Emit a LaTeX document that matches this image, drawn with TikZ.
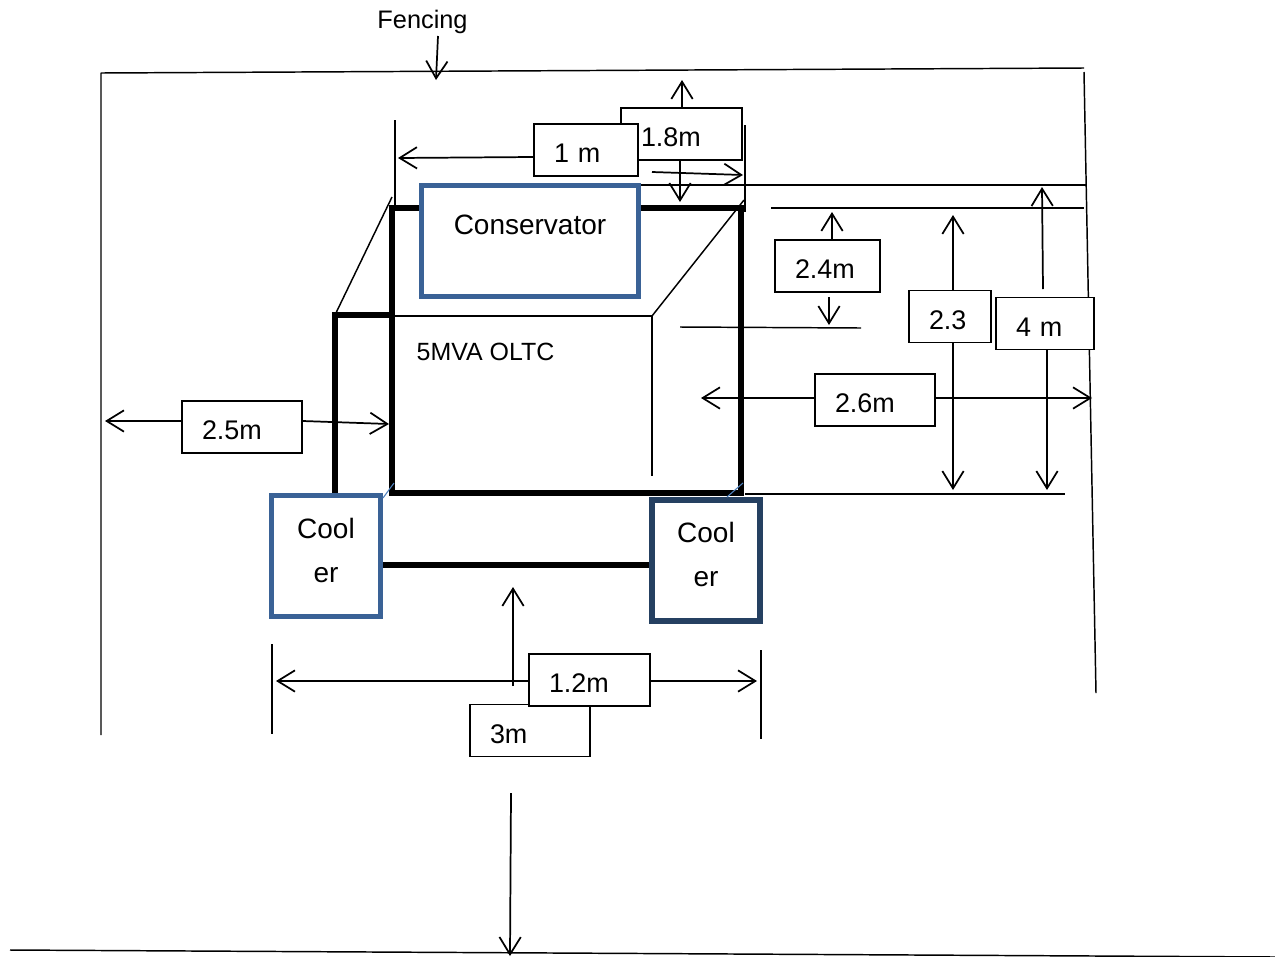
\documentclass[tikz,border=0pt]{standalone}
\usepackage{fontspec}
\setmainfont{Liberation Sans}
\usetikzlibrary{arrows.meta}
\definecolor{coolblue}{HTML}{3A6296}
\definecolor{darkblue}{HTML}{254061}
\definecolor{pipeblue}{HTML}{4F81BD}
\begin{document}
\begin{tikzpicture}[x=0.75pt,y=-0.75pt,line join=bevel,>={Straight Barb[length=13pt,width=16pt,line width=1.3pt]}]
  \tikzstyle{thin line}=[line width=1.1pt]
  \tikzstyle{thick line}=[line width=4pt,line join=miter]
  \tikzstyle{dim}=[->,line width=1.3pt]
  \tikzstyle{dimbox}=[draw,fill=white,line width=1.1pt,line join=miter,inner xsep=15pt,inner ysep=0pt,minimum height=39pt,align=left,font=\fontsize{20.2}{24}\selectfont,text height=20pt,text depth=1pt,text width=#1]
  \tikzstyle{unit}=[draw,fill=white,line width=4pt,line join=miter,inner sep=0pt,align=center,font=\fontsize{21}{33}\selectfont]
  \useasboundingbox (0,0) rectangle (1275,957);

  % fencing and ground
  \coordinate (F_1) at (101,735);
  \coordinate (F_2) at (101,73);
  \coordinate (F_3) at (1084,68);
  \coordinate (F_4) at (1084,72);
  \coordinate (F_5) at (1096,693);
  \draw[thin line] (F_1) -- (F_2) -- (F_3);
  \draw[thin line] (F_4) -- (F_5);
  \node[font=\fontsize{19}{22}\selectfont] (fencing) at (422.5,22) {Fencing};
  \coordinate (F_t) at (436,80);
  \draw[dim] (438,36) -- (F_t);
  \coordinate (G_1) at (10,950);
  \coordinate (G_2) at (1275,957);
  \draw[thin line] (G_1) -- (G_2);
  \coordinate (G_s) at (511,793);
  \coordinate (G_t) at (510,956);
  \draw[dim] (G_s) -- (G_t);

  % transformer body
  \node[draw,line width=4pt,line join=miter,minimum width=261.75pt,minimum height=213.75pt,inner sep=0pt] (tank) at (566.5,350.5) {};
  \coordinate (P_1) at (392,315);
  \coordinate (P_2) at (335,315);
  \coordinate (P_3) at (335,495);
  \draw[thick line] (P_1) -- (P_2) -- (P_3);
  \coordinate (S_1) at (392,197);
  \coordinate (S_2) at (392,316);
  \coordinate (S_3) at (652,316);
  \coordinate (S_4) at (652,476);
  \coordinate (S_5) at (744,200);
  \draw[thin line] (P_2) -- (S_1);
  \draw[thin line] (S_2) -- (S_3) -- (S_4);
  \draw[thin line] (S_3) -- (S_5);
  \node[font=\fontsize{18.7}{22}\selectfont] (oltc) at (485.5,352) {5MVA OLTC};

  % extension lines
  \coordinate (E_1) at (395,120);
  \coordinate (E_2) at (395,208);
  \coordinate (E_3) at (745,125);
  \coordinate (E_4) at (745,212);
  \coordinate (E_5) at (634,185);
  \coordinate (E_6) at (1086,185);
  \coordinate (E_7) at (771,208);
  \coordinate (E_8) at (1084,208);
  \coordinate (E_9) at (680,327);
  \coordinate (E_10) at (861,328);
  \coordinate (E_11) at (745,494);
  \coordinate (E_12) at (1065,494);
  \coordinate (E_13) at (272,644);
  \coordinate (E_14) at (272,734);
  \coordinate (E_15) at (761,650);
  \coordinate (E_16) at (761,739);
  \draw[thin line] (E_1) -- (E_2);
  \draw[thin line] (E_3) -- (E_4);
  \draw[thin line] (E_5) -- (E_6);
  \draw[thin line] (E_7) -- (E_8);
  \draw[thin line] (E_9) -- (E_10);
  \draw[thin line] (E_11) -- (E_12);
  \draw[thin line] (E_13) -- (E_14);
  \draw[thin line] (E_15) -- (E_16);

  % conservator and coolers
  \node[unit,draw=coolblue,minimum width=162.5pt,minimum height=83.5pt,text height=37pt,text depth=46.5pt,text width=162pt] (conservator) at (530,241) {Conservator};
  \node[unit,draw=coolblue,minimum width=81.5pt,minimum height=90.75pt] (cooler_1) at (326,556) {Cool\\er\rule[-9pt]{0pt}{9pt}};
  \node[unit,draw=darkblue,minimum width=81pt,minimum height=90.75pt] (cooler_2) at (706,560.5) {Cool\\er\rule[-9pt]{0pt}{9pt}};
  \draw[thick line] (cooler_1.east |- 0,565) -- (cooler_2.west |- 0,565);
  \coordinate (C_1) at (383,498);
  \coordinate (C_2) at (394,483);
  \coordinate (C_3) at (727,497);
  \coordinate (C_4) at (743,483);
  \draw[pipeblue,line width=0.8pt] (C_1) -- (C_2);
  \draw[pipeblue,line width=0.8pt] (C_3) -- (C_4);

  % dimension boxes
  \node[dimbox=60.75pt] (B_18) at (681.5,134) {1.8m};
  \node[dimbox=48pt] (B_1) at (586,150) {1 m};
  \node[dimbox=48.75pt] (B_24) at (827.5,266) {2.4m};
  \node[dimbox=31.5pt] (B_23) at (950,316.5) {2.3};
  \node[dimbox=43.5pt] (B_4) at (1045,323.5) {4 m};
  \node[dimbox=60pt] (B_26) at (875,400) {2.6m};
  \node[dimbox=60pt] (B_25) at (242,427) {2.5m};
  \node[dimbox=60pt] (B_3) at (530,730.5) {3m};
  \node[dimbox=60.75pt] (B_12) at (589.5,680) {1.2m};

  % dimension arrows
  \coordinate (T_18a) at (682,80);
  \coordinate (T_18b) at (680,202);
  \draw[dim] (T_18a |- B_18.north) -- (T_18a);
  \draw[dim] (T_18b |- B_18.south) -- (T_18b);
  \coordinate (T_1) at (398,158);
  \draw[dim] (B_1.west |- 0,157) -- (T_1);
  \coordinate (T_0a) at (652,172);
  \coordinate (T_0b) at (743,175);
  \draw[dim] (T_0a) -- (T_0b);
  \coordinate (T_24a) at (832,212);
  \coordinate (T_24b) at (829,325);
  \coordinate (T_24c) at (829,297);
  \draw[dim] (T_24a |- B_24.north) -- (T_24a);
  \draw[dim] (T_24c) -- (T_24b);
  \coordinate (T_23a) at (953,215);
  \coordinate (T_23b) at (953,490);
  \draw[dim] (T_23a |- B_23.north) -- (T_23a);
  \draw[dim] (T_23b |- B_23.south) -- (T_23b);
  \coordinate (T_4a) at (1042,187);
  \coordinate (T_4c) at (1043,289);
  \coordinate (T_4b) at (1047,490);
  \draw[dim] (T_4c) -- (T_4a);
  \draw[dim] (T_4b |- B_4.south) -- (T_4b);
  \coordinate (T_26a) at (701,398);
  \coordinate (T_26b) at (1092,398);
  \draw[dim] (B_26.west |- T_26a) -- (T_26a);
  \draw[dim] (B_26.east |- T_26b) -- (T_26b);
  \coordinate (T_25a) at (105,421);
  \coordinate (T_25b) at (389,424);
  \draw[dim] (B_25.west |- T_25a) -- (T_25a);
  \draw[dim] (B_25.east |- 0,421) -- (T_25b);
  \coordinate (T_12a) at (276,681);
  \coordinate (T_12b) at (757,681);
  \draw[dim] (B_12.west |- T_12a) -- (T_12a);
  \draw[dim] (B_12.east |- T_12b) -- (T_12b);
  \coordinate (T_3a) at (513,587);
  \coordinate (T_3b) at (513,686);
  \draw[dim] (T_3b) -- (T_3a);
\end{tikzpicture}
\end{document}
